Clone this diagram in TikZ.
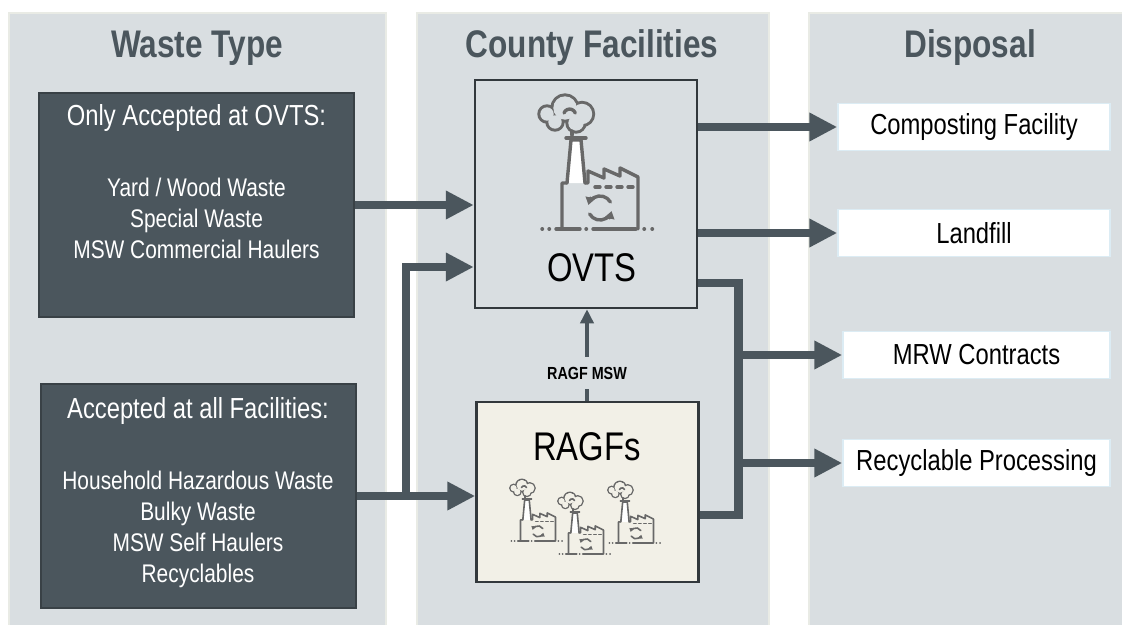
\documentclass[tikz,border=0pt]{standalone}
\usepackage{fontspec}
\setmainfont{Liberation Sans}[FakeStretch=0.82]
\usetikzlibrary{arrows.meta,positioning,calc}
\definecolor{panelgray}{RGB}{217,222,225}
\definecolor{paneledge}{RGB}{233,235,229}
\definecolor{slate}{RGB}{75,86,93}
\definecolor{slateedge}{RGB}{57,65,70}
\definecolor{boxedge}{RGB}{50,56,60}
\definecolor{ragfbg}{RGB}{242,240,231}
\definecolor{icongray}{RGB}{104,104,104}
\definecolor{destedge}{RGB}{220,236,244}
\tikzset{
    x=1pt, y=-1pt,
    panel/.style={fill=panelgray, draw=paneledge, line width=1.5pt, anchor=north west},
    heading/.style={font=\bfseries\fontsize{38.5}{42}\selectfont, text=slate, anchor=base},
    wastebox/.style={fill=slate, draw=slateedge, line width=2pt,
        minimum width=315pt, minimum height=224pt},
    boxhead/.style={font=\fontsize{29}{31}\selectfont, text=white, inner sep=0pt},
    boxitems/.style={font=\fontsize{25.5}{31}\selectfont, text=white, align=center, inner sep=0pt},
    facility/.style={draw=boxedge, line width=2.5pt, minimum width=222pt},
    facname/.style={font=\fontsize{40}{44}\selectfont, inner sep=0pt},
    destbox/.style={fill=white, draw=destedge, line width=1.5pt, minimum width=272pt,
        minimum height=47pt, font=\fontsize{29}{31}\selectfont},
    msw/.style={font=\bfseries\fontsize{17.5}{19}\selectfont, inner xsep=0pt, inner ysep=10pt},
    flow/.style={draw=slate, line width=8.5pt, -{Triangle[length=28pt,width=27pt]}},
    bus/.style={draw=slate, line width=8.5pt},
    feed/.style={draw=slate, line width=4pt},
    pics/factory/.style={code={
        \begin{scope}[yscale=-1, icongray, line cap=round, line join=round]
            \foreach \cx/\cy/\r in {-53/115/8, -35/121/13, -18/115/11.5, -45/107/8, -24/106/9}
                \draw (\cx,\cy) circle[radius=\r];
            \foreach \cx/\cy/\r in {-53/115/8, -35/121/13, -18/115/11.5, -45/107/8, -24/106/9}
                \fill[#1] (\cx,\cy) circle[radius=\r-1.3];
            \draw (-36,116) arc[start angle=160, end angle=20, radius=6];
            \draw (-28,98) -- (-28,94);
            \draw[fill=white] (-33,46) -- (-29,89) -- (-19,89) -- (-15,46);
            \draw (-34,91) -- (-14,91);
            \draw (-38,0) -- (-38,46) -- (-33,46) (-15,46) -- (-12,46) -- (-12,58) -- (4,51)
                -- (4,60) -- (20,53) -- (20,61) -- (38,52) -- (38,0);
            \foreach \a in {-5,6,17,28}
                \draw (\a,42) -- ++(5,0);
            \draw[-{Triangle[length=0pt 2.2,width=0pt 2.8]}] (0,21) ++(30:12)
                arc[start angle=30, end angle=165, radius=12];
            \draw[-{Triangle[length=0pt 2.2,width=0pt 2.8]}] (0,21) ++(210:12)
                arc[start angle=210, end angle=345, radius=12];
            \foreach \a/\b in {-58/-57.5, -51/-50.5, -44/-20, -14/-13.5, -7/36, 44/44.5, 52/52.5}
                \draw (\a,0) -- (\b,0);
        \end{scope}
    }},
}

\begin{document}
\begin{tikzpicture}
    \useasboundingbox (0,0) rectangle (1122,624);
    \fill[white] (0,0) rectangle (1122,624);

    \node[panel, minimum width=377pt, minimum height=625pt] (typepanel) at (8,12) {};
    \node[panel, minimum width=352pt, minimum height=625pt] (countypanel) at (416,12) {};
    \node[panel, minimum width=320pt, minimum height=625pt] (disppanel) at (808,12) {};

    \node[heading] at (197,57) {Waste Type};
    \node[heading] at (592,57) {County Facilities};
    \node[heading] at (970,57) {Disposal};

    % waste types
    \node[wastebox] (onlyovts) at (196.5,205) {};
    \node[boxhead, below=12pt of onlyovts.north] (onlyhead) {Only Accepted at OVTS:};
    \node[boxitems, below=46pt of onlyhead] (onlyitems)
        {Yard / Wood Waste\\Special Waste\\MSW Commercial Haulers};

    \node[wastebox] (allfac) at (198,496) {};
    \node[boxhead, below=14pt of allfac.north] (allhead) {Accepted at all Facilities:};
    \node[boxitems, below=46pt of allhead] (allitems)
        {Household Hazardous Waste\\Bulky Waste\\MSW Self Haulers\\Recyclables};

    % county facilities
    \node[facility, fill=panelgray, minimum height=228pt] (ovts) at (586,194) {};
    \node[facname] at (592,268) {OVTS};
    \pic[line width=3.4pt] at (600,229) {factory=panelgray};

    \node[facility, fill=ragfbg, minimum height=180pt] (ragf) at (587.5,492) {};
    \node[facname] at (587,447) {RAGFs};
    \pic[scale=0.46, line width=1.6pt] at (538,541) {factory=ragfbg};
    \pic[scale=0.46, line width=1.6pt] at (586,554) {factory=ragfbg};
    \pic[scale=0.46, line width=1.6pt] at (636,543) {factory=ragfbg};

    % disposal
    \node[destbox] (compost) at (974,127) {Composting Facility};
    \node[destbox] (landfill) at (974,233) {Landfill};
    \node[destbox, minimum width=267pt] (mrw) at (976.5,355) {MRW Contracts};
    \node[destbox, minimum width=267pt] (recyc) at (976.5,463) {Recyclable Processing};

    % flows
    \draw[flow] (onlyovts.east) -- (onlyovts.east -| ovts.west);
    \draw[flow] (allfac.east) -- (allfac.east -| ragf.west);
    \coordinate (split) at (406,496);
    \draw[flow] (split) |- ([yshift=-73pt]ovts.west);

    \node[msw] (ragfmsw) at (587,373) {RAGF MSW};
    \draw[feed] (ragf.north -| ragfmsw.south) -- (ragfmsw.south);
    \draw[feed, -{Triangle[length=14pt,width=13pt]}] (ragfmsw.north) -- (ragfmsw.north |- ovts.south);

    \draw[flow] (compost.west -| ovts.east) -- (compost.west);
    \draw[flow] (landfill.west -| ovts.east) -- (landfill.west);
    \coordinate (bus) at ([xshift=40pt, yshift=-89pt]ovts.east);
    \draw[bus] ([yshift=-89pt]ovts.east) -- (bus) |- ([yshift=-23pt]ragf.east);
    \draw[flow] (mrw.west -| bus) -- (mrw.west);
    \draw[flow] (recyc.west -| bus) -- (recyc.west);
\end{tikzpicture}
\end{document}
